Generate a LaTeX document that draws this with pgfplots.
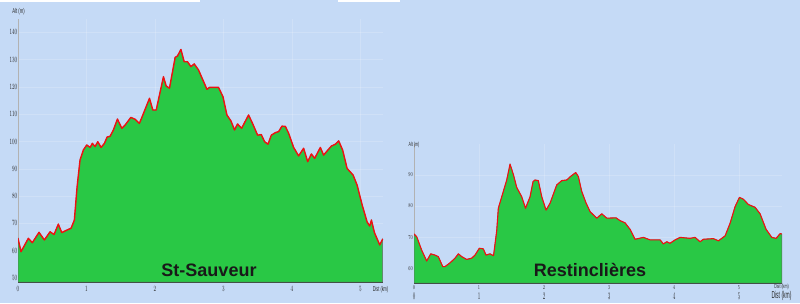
\documentclass[border=0pt]{standalone}
\usepackage{pgfplots}
\pgfplotsset{compat=1.18}
\usepackage{pgfplotstable}
\usepackage{graphicx}
\usepackage{fontspec}
\setmainfont{Liberation Sans}
\definecolor{bg}{HTML}{C5DAF6}
\definecolor{fillg}{HTML}{29C845}
\definecolor{prof}{HTML}{EE1111}
\definecolor{lbl}{HTML}{2A2A2A}

\pgfplotstableread{
x y
0.000 64.5
0.044 59.6
0.151 64.5
0.209 62.9
0.307 66.7
0.385 63.9
0.468 66.9
0.526 65.9
0.589 69.7
0.639 66.6
0.712 67.5
0.775 68.2
0.823 71.2
0.863 83.4
0.906 93.2
0.955 96.9
1.004 98.7
1.053 97.8
1.086 99.3
1.126 98.1
1.165 99.9
1.213 97.8
1.262 99.3
1.301 101.6
1.345 101.9
1.393 104.2
1.452 108.2
1.516 104.8
1.564 106.0
1.648 108.8
1.711 108.1
1.773 106.6
1.823 109.7
1.920 115.8
1.969 111.5
2.018 111.5
2.124 123.7
2.164 120.3
2.212 119.5
2.295 130.8
2.329 131.3
2.379 133.7
2.427 129.2
2.475 129.2
2.525 127.4
2.573 128.4
2.636 126.2
2.700 122.5
2.759 119.1
2.797 119.8
2.846 119.8
2.928 119.8
2.993 116.4
3.051 109.7
3.110 107.5
3.162 104.2
3.206 106.4
3.265 104.8
3.367 109.7
3.425 106.6
3.499 102.3
3.553 102.5
3.601 99.9
3.651 99.0
3.699 102.3
3.757 103.2
3.806 103.6
3.855 105.6
3.904 105.5
3.952 103.0
4.025 97.8
4.098 94.7
4.171 97.5
4.230 92.6
4.284 95.4
4.332 93.8
4.415 97.8
4.463 95.0
4.513 96.5
4.576 98.3
4.635 99.0
4.683 100.2
4.741 96.8
4.806 90.1
4.893 87.7
4.952 84.0
5.025 76.8
5.098 70.5
5.136 69.0
5.161 71.2
5.205 66.6
5.282 62.1
5.326 64.3
}\leftdata

\pgfplotstableread{
x y
0.000 71.0
0.042 70.1
0.118 65.8
0.195 62.3
0.257 64.6
0.323 64.2
0.374 63.7
0.442 60.5
0.477 60.5
0.554 61.7
0.631 63.2
0.682 64.6
0.734 63.7
0.811 62.8
0.888 63.2
0.938 64.2
1.005 66.4
1.066 66.2
1.108 64.2
1.169 64.6
1.223 64.0
1.272 72.0
1.297 79.3
1.365 84.1
1.426 88.4
1.477 93.5
1.528 90.2
1.580 86.0
1.657 83.0
1.715 79.3
1.785 83.0
1.831 87.9
1.862 88.4
1.912 88.2
1.965 83.0
2.031 78.7
2.092 80.9
2.195 86.8
2.272 88.2
2.349 88.4
2.411 89.6
2.488 90.8
2.528 89.5
2.580 84.7
2.646 81.0
2.708 78.2
2.811 76.1
2.888 77.5
2.965 76.1
3.108 76.2
3.169 75.3
3.246 74.6
3.323 72.5
3.400 69.3
3.528 69.9
3.631 69.1
3.785 69.1
3.835 67.8
3.888 68.5
3.938 68.0
4.015 69.1
4.092 69.9
4.246 69.6
4.323 69.9
4.400 68.5
4.451 69.3
4.605 69.5
4.683 68.8
4.785 70.4
4.862 74.5
4.938 79.8
5.005 82.8
5.066 82.2
5.143 80.5
5.246 79.6
5.323 77.5
5.415 72.5
5.503 69.9
5.569 69.6
5.631 71.1
5.657 71.0
}\rightdata

\begin{document}
\begin{tikzpicture}[x=1pt,y=1pt]
\fill[bg] (0,0) rectangle (800,303);
\fill[white] (0,301) rectangle (200,303);
\fill[white] (338,301) rectangle (400,303);

% ---- left chart: St-Sauveur ----
\begin{axis}[
  at={(18pt,21pt)}, anchor=south west,
  scale only axis, width=365pt, height=263.4pt,
  xmin=0, xmax=5.33, ymin=48.5, ymax=145,
  axis x line*=bottom, axis y line*=left,
  xtick={0,1,2,3,4,5}, ytick={50,60,...,140},
  major tick length=0pt,
  grid=major, grid style={white, opacity=0.18, line width=0.4pt},
  ticklabel style={font=\fontsize{8}{8}\selectfont, text=lbl},
  xticklabel={\scalebox{0.6}[1]{\pgfmathprintnumber{\tick}}},
  yticklabel={\scalebox{0.6}[1]{\pgfmathprintnumber{\tick}}},
  yticklabel style={anchor=east, inner sep=0.5pt},
  xticklabel style={anchor=north, inner sep=0pt, yshift=-4pt},
  x axis line style={black!80, line width=0.8pt, -},
  y axis line style={black!30, line width=0.5pt, -},
]
\addplot[fill=fillg, draw=black!60, line width=0.5pt] table {\leftdata} \closedcycle;
\addplot[prof, line width=1.4pt, line join=round] table {\leftdata};
\end{axis}
\node[font=\fontsize{7}{7}\selectfont, text=lbl] at (18.5,291) {\scalebox{0.6}[1]{Alt (m)}};
\node[font=\fontsize{7}{7}\selectfont, text=lbl] at (380.5,13) {\scalebox{0.55}[1]{Dist (km)}};
\node[font=\fontsize{18}{18}\selectfont\bfseries, text=black!90, anchor=base] at (209,27) {St-Sauveur};

% ---- right chart: Restinclieres ----
\begin{axis}[
  at={(414pt,20pt)}, anchor=south west,
  scale only axis, width=368pt, height=139pt,
  xmin=0, xmax=5.66, ymin=55.2, ymax=100,
  axis x line*=bottom, axis y line*=left,
  xtick={0,1,2,3,4,5}, ytick={60,70,80,90},
  major tick length=0pt,
  grid=major, grid style={white, opacity=0.18, line width=0.4pt},
  ticklabel style={font=\fontsize{6}{6}\selectfont, text=lbl},
  xticklabel={\scalebox{0.6}[1]{\pgfmathprintnumber{\tick}}},
  yticklabel={\scalebox{0.6}[1]{\pgfmathprintnumber{\tick}}},
  yticklabel style={anchor=east, inner sep=1pt},
  xticklabel style={anchor=north, inner sep=0pt, yshift=-2pt},
  x axis line style={black!80, line width=0.8pt, -},
  y axis line style={black!30, line width=0.5pt, -},
]
\addplot[fill=fillg, draw=black!60, line width=0.5pt] table {\rightdata} \closedcycle;
\addplot[prof, line width=1.1pt, line join=round] table {\rightdata};
\end{axis}
% doubled, larger tick labels under the right chart
\begin{axis}[
  at={(414pt,20pt)}, anchor=south west,
  scale only axis, width=368pt, height=139pt,
  xmin=0, xmax=5.66, ymin=55.2, ymax=100,
  axis line style={draw=none},
  xtick={0,1,2,3,4,5}, ytick=\empty,
  major tick length=0pt,
  ticklabel style={font=\fontsize{10}{10}\selectfont, text=lbl},
  xticklabel={\scalebox{0.5}[1]{\pgfmathprintnumber{\tick}}},
  xticklabel style={anchor=north, inner sep=0pt, yshift=-9.5pt},
]
\end{axis}
\node[font=\fontsize{6}{6}\selectfont, text=lbl] at (414,158) {\scalebox{0.6}[1]{Alt (m)}};
\node[font=\fontsize{6}{6}\selectfont, text=lbl] at (781.5,16) {\scalebox{0.6}[1]{Dist (km)}};
\node[font=\fontsize{10}{10}\selectfont, text=lbl] at (781.5,7) {\scalebox{0.5}[1]{Dist (km)}};
\node[font=\fontsize{18}{18}\selectfont\bfseries, text=black!90, anchor=base] at (590,26.3) {Restinclières};
\end{tikzpicture}
\end{document}
